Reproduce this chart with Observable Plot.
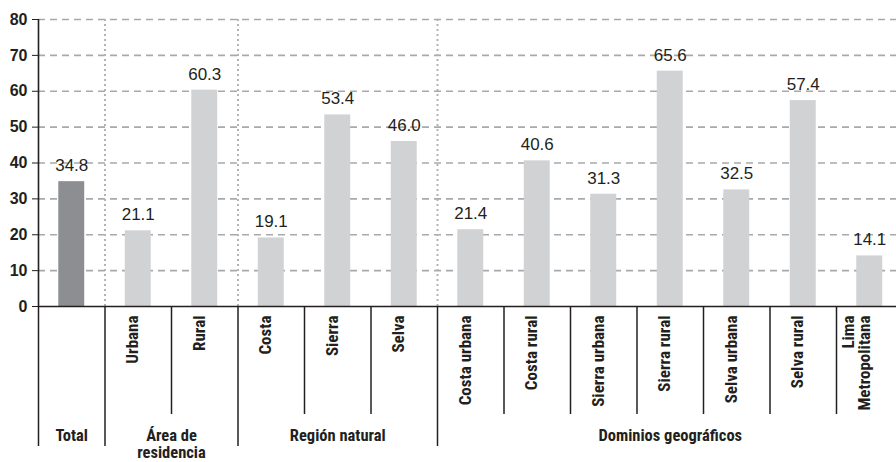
<!DOCTYPE html>
<html><head><meta charset="utf-8">
<script src="https://cdn.jsdelivr.net/npm/d3@7"></script>
<script src="https://cdn.jsdelivr.net/npm/@observablehq/plot@0.6"></script>
<style>
body{margin:0;background:#fff}
#chart svg{display:block;font-family:"Liberation Sans",Arial,Helvetica,sans-serif}
</style>
</head><body><div id="chart"></div>
<script>
const categories = ["Total","Urbana","Rural","Costa","Sierra","Selva","Costa urbana","Costa rural","Sierra urbana","Sierra rural","Selva urbana","Selva rural","Lima\nMetropolitana"];
const categoryLabels = ["","Urbana","Rural","Costa","Sierra","Selva","Costa urbana","Costa rural","Sierra urbana","Sierra rural","Selva urbana","Selva rural","Lima\nMetropolitana"];
const values = [34.8,21.1,60.3,19.1,53.4,46.0,21.4,40.6,31.3,65.6,32.5,57.4,14.1];
const groupNames = ["Total","Área de\nresidencia","Región natural","Dominios geográficos"];
const groupSizes = [1,2,3,7];
const yTicks = [0,10,20,30,40,50,60,70,80];

const data = categories.map((c,i)=>({i, category:c, label:categoryLabels[i], value:values[i]}));
let acc = 0;
const groups = groupNames.map((g,k)=>{const start=acc; acc+=groupSizes[k]; return {name:g,start,end:acc};});
const groupBounds = [0, ...groups.map(g=>g.end)];
const innerBounds = d3.range(1, categories.length).filter(b=>!groupBounds.includes(b));
const sepBounds = groups.slice(0,-1).map(g=>g.end);

const ink = "#231f20";
const narrow = "'Liberation Sans Narrow','Arial Narrow','Roboto Condensed',sans-serif";
const plot = Plot.plot({
  width: 896, height: 462,
  marginTop: 19, marginBottom: 156, marginLeft: 38, marginRight: 0,
  style: {fontFamily: "'Liberation Sans', Arial, sans-serif", color: ink, background: "#fff"},
  x: {type: "linear", domain: [0, categories.length], range: [38, 902.5], axis: null},
  y: {domain: [0, 80], axis: null},
  marks: [
    Plot.ruleY(yTicks.filter(d=>d>0), {stroke:"#a7a9ac", strokeWidth:1.6, strokeDasharray:"7,5"}),
    Plot.ruleX(sepBounds, {y1:0, y2:80, stroke:"#b3b3b3", strokeWidth:2, strokeDasharray:"2,3"}),
    Plot.rectY(data, {x1: d=>d.i+0.305, x2: d=>d.i+0.695, y: "value", fill: d=> d.i===0 ? "#8d8e91" : "#d1d2d4"}),
    Plot.text(data, {x: d=>d.i+0.5, y: "value", text: d=>d.value.toFixed(1), dy: -16, fontSize: 17, fill: ink}),
    Plot.axisY(yTicks, {label: null, tickSize: 6, tickPadding: 5, fontSize: 16, fontWeight: "bold", stroke: ink, fill: ink}),
    Plot.ruleX([0], {y1:0, y2:80, stroke: ink, strokeWidth:1.6}),
    Plot.ruleY([0], {stroke: ink, strokeWidth:1.6}),
    Plot.ruleX(groupBounds, {stroke: ink, strokeWidth:1.5, insetTop: 287, insetBottom: -140}),
    Plot.ruleX(innerBounds, {stroke: ink, strokeWidth:1.5, insetTop: 287, insetBottom: -108}),
    Plot.text(data.filter(d=>d.label), {x: d=>d.i+0.5, text: "label", frameAnchor: "bottom", rotate: -90, textAnchor: "end", dy: 9, fontSize: 17, fontWeight: "bold", fontFamily: narrow, lineHeight: 0.95, fill: ink}),
    Plot.text(groups, {x: d=>(d.start+d.end)/2, text: "name", frameAnchor: "bottom", lineAnchor: "top", dy: 123, fontSize: 16.5, fontWeight: "bold", fontFamily: narrow, lineHeight: 1.02, fill: ink})
  ]
});
document.getElementById("chart").append(plot);
</script>
</body></html>
